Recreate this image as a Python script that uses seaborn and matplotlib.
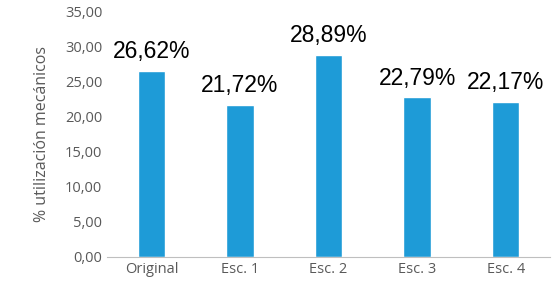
import matplotlib
matplotlib.use("Agg")
import matplotlib.pyplot as plt
import seaborn as sns
import pandas as pd
from matplotlib.ticker import FuncFormatter, MultipleLocator

# ----------- DONNÉES -------------
escenarios = ['Original', 'Esc. 1', 'Esc. 2', 'Esc. 3', 'Esc. 4']
utilizacion = [26.62, 21.72, 28.89, 22.79, 22.17]

df = pd.DataFrame({'escenario': escenarios, 'util': utilizacion})

sns.set_style("white")
plt.rcParams['font.family'] = ['Open Sans', 'DejaVu Sans']

fig = plt.figure(figsize=(5.55, 2.83), dpi=100)
ax = fig.add_axes([0.193, 0.092, 0.798, 0.866])

sns.barplot(data=df, x='escenario', y='util', color='#1E9BD7', width=0.31,
            saturation=1, ax=ax)

# étiquettes de valeurs
for i, v in enumerate(utilizacion):
    ax.annotate(f"{v:.2f}%".replace('.', ','), (i, v), xytext=(0, 5.5),
                textcoords='offset points', ha='center', va='bottom',
                fontsize=16.5, family='Liberation Sans', color='black')

ax.set_ylim(0, 35)
ax.set_xlim(-0.5, 4.5)
ax.yaxis.set_major_locator(MultipleLocator(5))
ax.yaxis.set_major_formatter(FuncFormatter(lambda y, _: f"{y:.2f}".replace('.', ',')))
ax.set_xlabel('')
ax.set_ylabel('% utilización mecánicos', fontsize=11.5, color='#595959', labelpad=11)
ax.tick_params(axis='both', labelsize=10.5, colors='#595959', length=0)

for s in ['top', 'right', 'left']:
    ax.spines[s].set_visible(False)
ax.spines['bottom'].set_color('#BFBFBF')

fig.savefig("out.png", dpi=100)
